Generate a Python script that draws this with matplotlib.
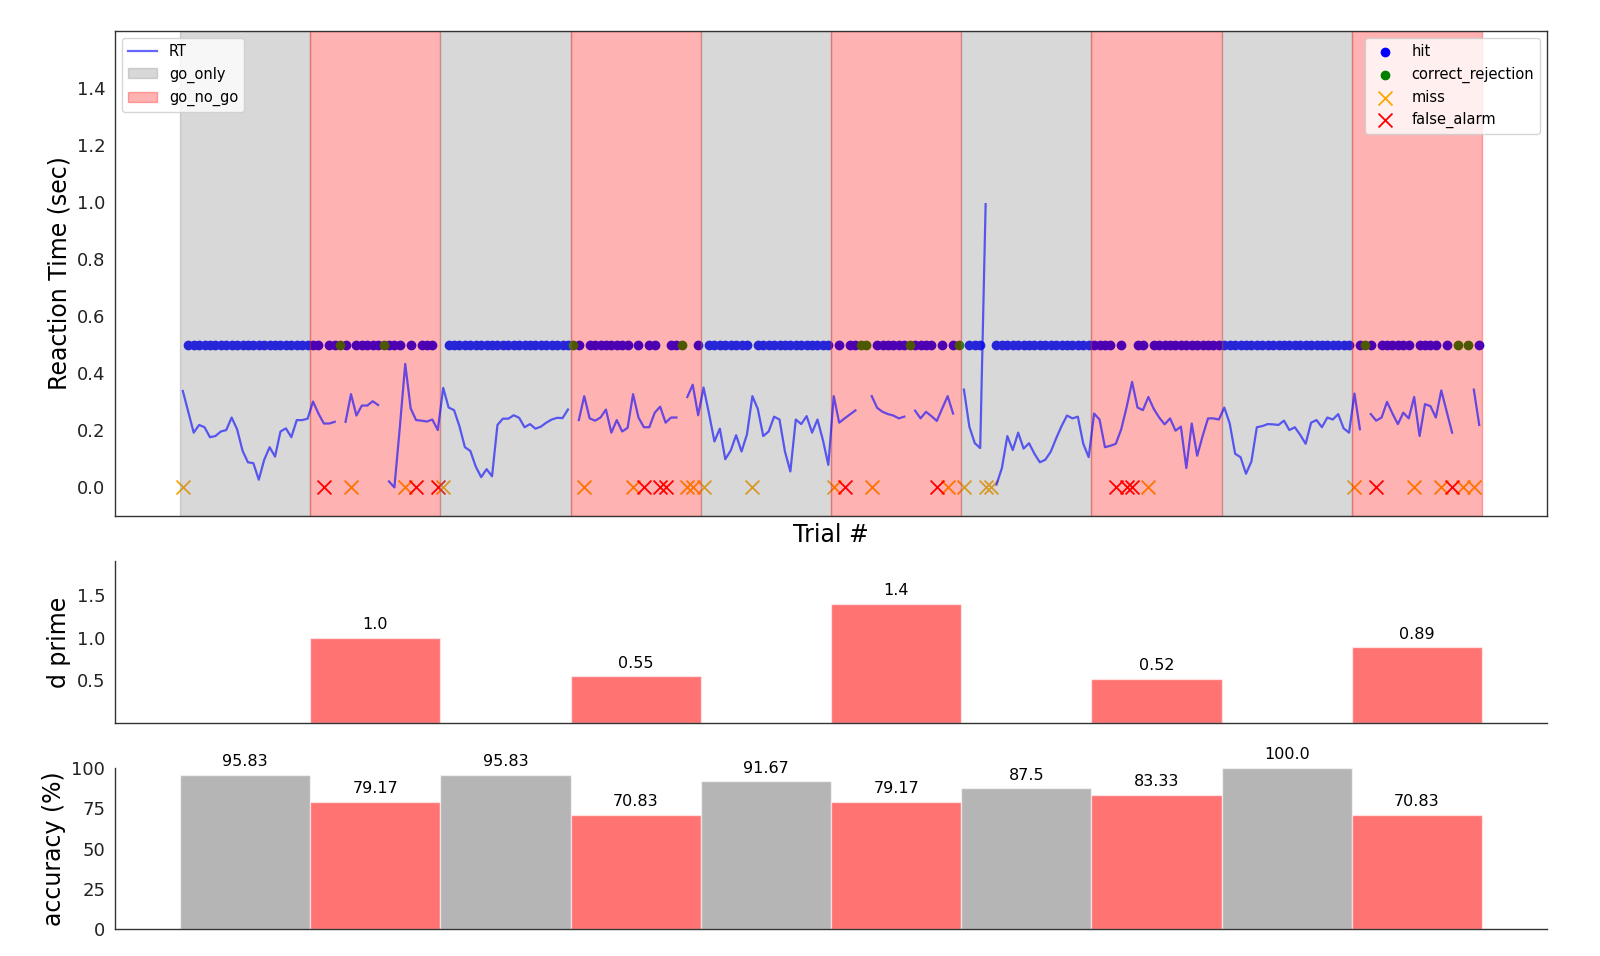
import numpy as np
import matplotlib
matplotlib.use("Agg")
import matplotlib.pyplot as plt
from matplotlib.patches import Patch
from matplotlib.lines import Line2D

# ---- data ----
trials_per_block = 24
block_types = ["go_only", "go_no_go"] * 5

nan = np.nan
# reaction time per trial (sec), one row per block
rt = [
    0.338, 0.265, 0.192, 0.219, 0.211, 0.176, 0.180, 0.196, 0.201, 0.245, 0.204, 0.129,
    0.088, 0.085, 0.027, 0.097, 0.141, 0.108, 0.196, 0.207, 0.176, 0.236, 0.236, 0.241,
    0.301, 0.259, 0.224, 0.224, 0.230, nan, 0.230, 0.327, 0.252, 0.287, 0.287, 0.302,
    0.289, nan, 0.021, 0.000, 0.210, 0.433, 0.277, 0.236, 0.234, 0.231, 0.238, 0.201,
    0.349, 0.280, 0.271, 0.214, 0.141, 0.128, 0.073, 0.036, 0.064, 0.039, 0.219, 0.241,
    0.241, 0.253, 0.244, 0.211, 0.222, 0.206, 0.213, 0.227, 0.238, 0.244, 0.243, 0.273,
    nan, 0.236, 0.320, 0.242, 0.234, 0.245, 0.273, 0.192, 0.236, 0.196, 0.209, 0.327,
    0.245, 0.211, 0.211, 0.262, 0.283, 0.227, 0.245, 0.245, nan, 0.317, 0.360, 0.253,
    0.350, 0.259, 0.161, 0.206, 0.099, 0.129, 0.183, 0.126, 0.186, 0.320, 0.275, 0.180,
    0.196, 0.248, 0.238, 0.126, 0.056, 0.238, 0.222, 0.250, 0.192, 0.238, 0.166, 0.079,
    0.320, 0.227, 0.242, 0.256, 0.270, nan, nan, 0.320, 0.279, 0.265, 0.257, 0.252,
    0.242, 0.248, nan, 0.269, 0.242, 0.265, 0.250, 0.233, 0.277, 0.320, 0.259, nan,
    0.343, 0.213, 0.155, 0.138, 0.993, nan, 0.010, 0.068, 0.180, 0.131, 0.192, 0.136,
    0.155, 0.118, 0.088, 0.097, 0.125, 0.172, 0.215, 0.252, 0.242, 0.248, 0.153, 0.106,
    0.259, 0.238, 0.141, 0.146, 0.153, 0.204, 0.282, 0.370, 0.280, 0.271, 0.317, 0.275,
    0.245, 0.221, 0.242, 0.199, 0.213, 0.068, 0.224, 0.111, 0.180, 0.242, 0.242, 0.238,
    0.280, 0.224, 0.118, 0.106, 0.048, 0.091, 0.211, 0.215, 0.222, 0.221, 0.219, 0.234,
    0.201, 0.211, 0.184, 0.153, 0.227, 0.236, 0.211, 0.245, 0.238, 0.257, 0.207, 0.192,
    0.329, 0.204, nan, 0.257, 0.234, 0.245, 0.300, 0.259, 0.222, 0.262, 0.242, 0.317,
    0.180, 0.292, 0.285, 0.245, 0.340, 0.266, 0.192, nan, nan, nan, 0.343, 0.219,
]

miss_trials = [0, 31, 41, 48, 74, 83, 93, 94, 96, 105, 120, 127, 141, 144, 148, 149,
               178, 216, 227, 232, 236, 238]
fa_trials = [26, 43, 47, 85, 88, 89, 122, 139, 172, 174, 175, 220, 234]
cr_trials = [29, 37, 72, 92, 125, 126, 134, 143, 218, 235, 237]

dprime = [1.0, 0.55, 1.4, 0.52, 0.89]
accuracy = [95.83, 79.17, 95.83, 70.83, 91.67, 79.17, 87.5, 83.33, 100.0, 70.83]

# ---- derived ----
n_trials = len(rt)
trials = np.arange(n_trials)
hit_trials = [t for t in trials if t not in miss_trials + fa_trials + cr_trials]
block_start = np.arange(len(block_types)) * trials_per_block - 0.5
block_center = block_start + trials_per_block / 2
span_color = {"go_only": "gray", "go_no_go": "red"}
ngo_idx = [i for i, b in enumerate(block_types) if b == "go_no_go"]

fig = plt.figure(figsize=(16, 9.56), dpi=100)
ax_rt = fig.add_axes([0.0719, 0.4603, 0.895, 0.5073])
ax_dp = fig.add_axes([0.0719, 0.2437, 0.895, 0.1695])
ax_acc = fig.add_axes([0.0719, 0.0282, 0.895, 0.1684])

spine_c = "#333333"
for ax in (ax_rt, ax_dp, ax_acc):
    ax.set_xlim(-12.5, 251.5)
    ax.set_xticks([])
    ax.tick_params(axis="y", length=0, labelsize=13, labelcolor="#222222", pad=7)
    for s in ax.spines.values():
        s.set_color(spine_c)
        s.set_linewidth(1.0)
for ax in (ax_dp, ax_acc):
    ax.spines["top"].set_visible(False)
    ax.spines["right"].set_visible(False)

# ---- top panel: RT per trial ----
ax_rt.scatter(hit_trials, np.full(len(hit_trials), 0.5), color="blue", s=36, label="hit", zorder=1)
ax_rt.scatter(cr_trials, np.full(len(cr_trials), 0.5), color="green", s=36, label="correct_rejection", zorder=1)
ax_rt.scatter(miss_trials, np.zeros(len(miss_trials)), color="orange", marker="x", s=100,
              linewidths=1.3, label="miss", zorder=1)
ax_rt.scatter(fa_trials, np.zeros(len(fa_trials)), color="red", marker="x", s=100,
              linewidths=1.3, label="false_alarm", zorder=1)

for x0, b in zip(block_start, block_types):
    ax_rt.axvspan(x0, x0 + trials_per_block, color=span_color[b], alpha=0.3, zorder=1.5)

ax_rt.plot(trials, rt, color="blue", alpha=0.6, lw=1.6, zorder=2)
ax_rt.set_ylim(-0.1, 1.6)
ax_rt.set_yticks(np.arange(0, 1.41, 0.2))
ax_rt.set_ylabel("Reaction Time (sec)", fontsize=17)
ax_rt.set_xlabel("Trial #", fontsize=17, labelpad=5)

h1 = [Line2D([], [], color="blue", alpha=0.6, lw=1.6),
      Patch(facecolor="gray", edgecolor="gray", alpha=0.3),
      Patch(facecolor="red", edgecolor="red", alpha=0.3)]
leg1 = ax_rt.legend(h1, ["RT", "go_only", "go_no_go"], loc="upper left", fontsize=10.5)
ax_rt.add_artist(leg1)
ax_rt.legend(loc="upper right", fontsize=10.5)

# ---- middle panel: d prime ----
bars = ax_dp.bar(block_center[ngo_idx], dprime, width=trials_per_block, color="red",
                 alpha=0.55, edgecolor="white", linewidth=1)
ax_dp.bar_label(bars, labels=[str(v) for v in dprime], padding=4, fontsize=11.5)
ax_dp.set_ylim(0, 1.9)
ax_dp.set_yticks([0.5, 1.0, 1.5])
ax_dp.set_ylabel("d prime", fontsize=17)

# ---- bottom panel: accuracy ----
acc_colors = [span_color[b] for b in block_types]
acc_alpha = [0.58 if b == "go_only" else 0.55 for b in block_types]
bars = ax_acc.bar(block_center, accuracy, width=trials_per_block, color=acc_colors,
                  edgecolor="white", linewidth=1)
for b, a in zip(bars, acc_alpha):
    b.set_alpha(a)
ax_acc.bar_label(bars, labels=[str(v) for v in accuracy], padding=4, fontsize=11.5)
ax_acc.set_ylim(0, 100)
ax_acc.set_yticks([0, 25, 50, 75, 100])
ax_acc.set_ylabel("accuracy (%)", fontsize=17)

fig.savefig("out.png", dpi=100)
